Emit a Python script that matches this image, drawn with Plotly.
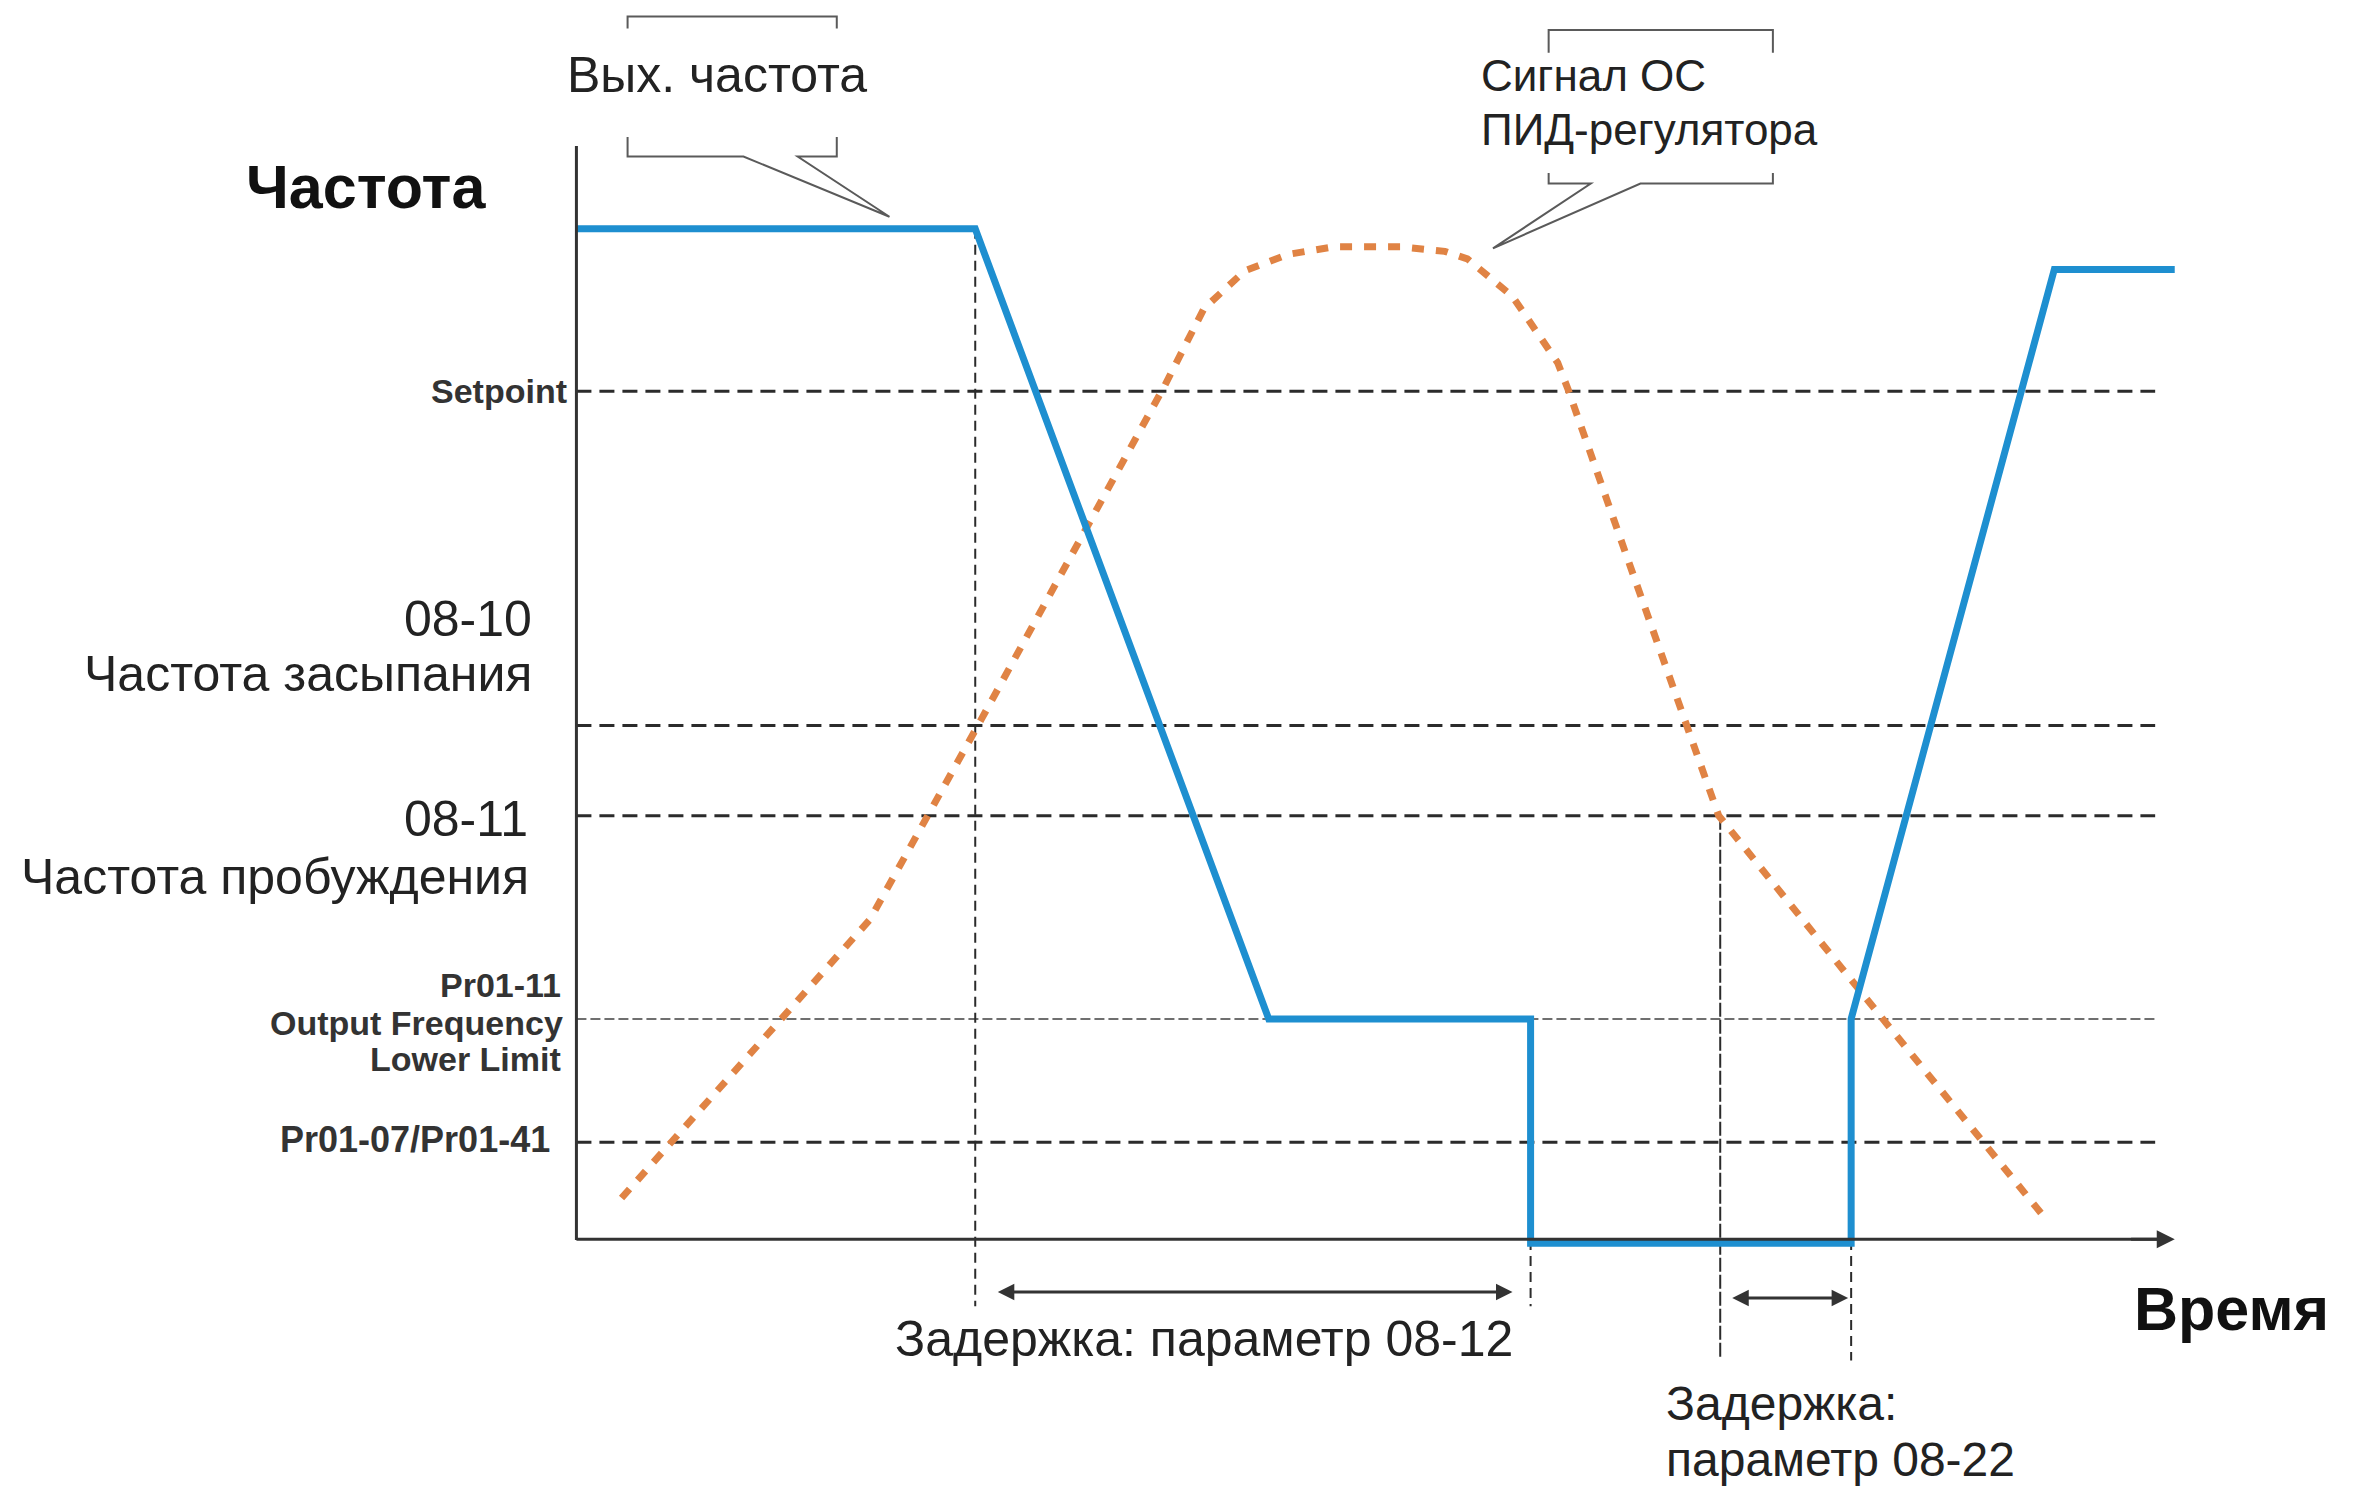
import plotly.graph_objects as go

# ---------------- data (time / frequency in arbitrary diagram units) ----------------
time_out = [0.0, 26.5, 46.0, 63.4, 63.4, 84.7, 84.7, 98.2, 106.2]
freq_out = [67.2, 67.2, 14.7, 14.7, -0.2, -0.2, 14.7, 64.5, 64.5]

time_pid = [3.0, 19.5, 26.9, 34.3, 39.1, 41.7, 44.4, 47.3, 50.3, 54.8, 57.7, 59.2,
            62.2, 65.2, 65.9, 69.8, 73.8, 75.9, 86.8, 97.8]
pid_fb = [2.8, 21.3, 34.6, 48.2, 56.8, 61.9, 64.4, 65.5, 66.0, 66.0, 65.7, 65.2,
          62.7, 58.3, 56.5, 45.4, 34.3, 28.2, 14.7, 1.2]

level_names = ["Setpoint", "08-10", "08-11", "Pr01-11", "Pr01-07/Pr01-41"]
level_values = [56.4, 34.2, 28.2, 14.7, 6.5]

t_sleep_start = 26.5   # output reaches sleep level -> delay 08-12 starts
t_sleep = 63.4         # drive sleeps
t_wake_detect = 76.0   # feedback crosses wake level -> delay 08-22 starts
t_wake = 84.7          # drive wakes

axis_top = 72.7
axis_end = 106.2
level_end = 104.9

BLUE = "#1E8FD0"
ORANGE = "#E08344"
DARK = "#2b2b2b"
FONT = "Liberation Sans, Arial, sans-serif"


def px(xs):
    return (xs - 383) / 10.0


def py(ys):
    return (824 - ys) / 10.0


fig = go.Figure()

shapes = []
# horizontal reference levels
for name, v in zip(level_names, level_values):
    if name == "Pr01-11":
        shapes.append(dict(type="line", xref="x", yref="y", x0=0, x1=level_end, y0=v, y1=v,
                           line=dict(color="#6f6f6f", width=2, dash="10px,4px"), layer="below"))
    else:
        shapes.append(dict(type="line", xref="x", yref="y", x0=0, x1=level_end, y0=v, y1=v,
                           line=dict(color=DARK, width=3, dash="15px,8px"), layer="below"))

# vertical event lines
vdash = dict(color=DARK, width=2, dash="10px,6px")
shapes.append(dict(type="line", xref="x", yref="y", x0=t_sleep_start, x1=t_sleep_start,
                   y0=freq_out[1], y1=-4.4, line=vdash, layer="below"))
shapes.append(dict(type="line", xref="x", yref="y", x0=t_sleep, x1=t_sleep,
                   y0=0, y1=-4.4, line=vdash, layer="below"))
shapes.append(dict(type="line", xref="x", yref="y", x0=t_wake_detect, x1=t_wake_detect,
                   y0=level_values[2], y1=-7.8, line=dict(color=DARK, width=2, dash="14px,3px"),
                   layer="below"))
shapes.append(dict(type="line", xref="x", yref="y", x0=t_wake, x1=t_wake,
                   y0=0, y1=-8.0, line=vdash, layer="below"))

# axes
shapes.append(dict(type="line", xref="x", yref="y", x0=0, x1=0, y0=0, y1=axis_top,
                   line=dict(color="#333333", width=3)))
shapes.append(dict(type="line", xref="x", yref="y", x0=0, x1=axis_end - 0.5, y0=0.05, y1=0.05,
                   line=dict(color="#333333", width=3)))


def path(points):
    s = ""
    for i, (a, b) in enumerate(points):
        s += ("M" if i == 0 else "L") + f"{px(a):.3f},{py(b):.3f} "
    return s.strip()


call = dict(color="#5a5a5a", width=2)
# callout "Вых. частота"
shapes.append(dict(type="path", xref="x", yref="y",
                   path=path([(417, 19), (417, 11), (556, 11), (556, 19)]), line=call))
shapes.append(dict(type="path", xref="x", yref="y",
                   path=path([(417, 91), (417, 104), (494, 104), (591, 144), (530, 104),
                              (556, 104), (556, 91)]), line=call))
# callout "Сигнал ОС ПИД-регулятора"
shapes.append(dict(type="path", xref="x", yref="y",
                   path=path([(1029, 35), (1029, 20), (1178, 20), (1178, 35)]), line=call))
shapes.append(dict(type="path", xref="x", yref="y",
                   path=path([(1029, 115), (1029, 122), (1057, 122), (992, 165), (1090, 122),
                              (1178, 122), (1178, 115)]), line=call))

# traces
fig.add_trace(go.Scatter(x=time_pid, y=pid_fb, mode="lines",
                         line=dict(color=ORANGE, width=7, dash="12px,12px"),
                         hoverinfo="skip"))
fig.add_trace(go.Scatter(x=time_out, y=freq_out, mode="lines",
                         line=dict(color=BLUE, width=7), hoverinfo="skip"))

ann = []


def txt(text, x, y, size, xanchor="center", bold=False, color="#222222"):
    if bold:
        text = "<b>" + text + "</b>"
    ann.append(dict(text=text, x=x, y=y, xref="x", yref="y", showarrow=False,
                    xanchor=xanchor, yanchor="middle",
                    font=dict(family=FONT, size=size, color=color)))


txt("Частота", px(243.5), py(124), 61, bold=True, color="#111111")
txt("Время", px(1483), py(870), 61, bold=True, color="#111111")
txt("Вых. частота", px(476.5), py(50), 50)
txt("Сигнал ОС", px(983), py(50), 44, xanchor="left")
txt("ПИД-регулятора", px(983), py(86), 44, xanchor="left")

txt(level_names[0], px(378), py(260), 34, xanchor="right", bold=True, color="#333333")
txt(level_names[1], px(355), py(411), 50, xanchor="right")
txt("Частота засыпания", px(355), py(448), 50, xanchor="right")
txt(level_names[2], px(352), py(544), 50, xanchor="right")
txt("Частота пробуждения", px(353), py(583), 50, xanchor="right")
txt(level_names[3], px(374), py(654.6), 34, xanchor="right", bold=True, color="#333333")
txt("Output Frequency", px(375.5), py(680), 34, xanchor="right", bold=True, color="#333333")
txt("Lower Limit", px(374), py(703.7), 34, xanchor="right", bold=True, color="#333333")
txt(level_names[4], px(367), py(757), 36, xanchor="right", bold=True, color="#333333")

txt("Задержка: параметр 08-12", px(800), py(890), 50)
txt("Задержка:", px(1105.6), py(932.5), 48, xanchor="left")
txt("параметр 08-22", px(1105.6), py(969.5), 48, xanchor="left")

# x-axis arrowhead
ann.append(dict(x=axis_end, y=0.05, ax=axis_end - 3, ay=0.05, xref="x", yref="y",
                axref="x", ayref="y", text="", showarrow=True, arrowhead=2,
                arrowsize=1.2, arrowwidth=3, arrowcolor="#333333"))

# delay arrows (double-headed)
ann.append(dict(x=px(1005), y=py(858.5), ax=px(662), ay=py(858.5), xref="x", yref="y",
                axref="x", ayref="y", text="", showarrow=True, arrowhead=2, startarrowhead=2,
                arrowside="end+start", arrowsize=1.1, arrowwidth=3, arrowcolor="#333333"))
ann.append(dict(x=px(1228), y=py(862.5), ax=px(1150), ay=py(862.5), xref="x", yref="y",
                axref="x", ayref="y", text="", showarrow=True, arrowhead=2, startarrowhead=2,
                arrowside="end+start", arrowsize=1.1, arrowwidth=3, arrowcolor="#333333"))

# the page body has an 8px margin: make the figure smaller and shift the mapping
OFF = 8
W, H = 2360 - 2 * OFF, 1499 - 2 * OFF
scale = 15.05
x0_full = 383 * 1.505 - OFF
y0_full = 824 * 1.505 - OFF

fig.update_layout(
    width=W, height=H,
    margin=dict(l=0, r=0, t=0, b=0),
    paper_bgcolor="white", plot_bgcolor="white",
    showlegend=False,
    xaxis=dict(range=[-x0_full / scale, (W - x0_full) / scale], visible=False, fixedrange=True),
    yaxis=dict(range=[(y0_full - H) / scale, y0_full / scale], visible=False, fixedrange=True),
    shapes=shapes,
    annotations=ann,
)

fig.write_html("out.html")
